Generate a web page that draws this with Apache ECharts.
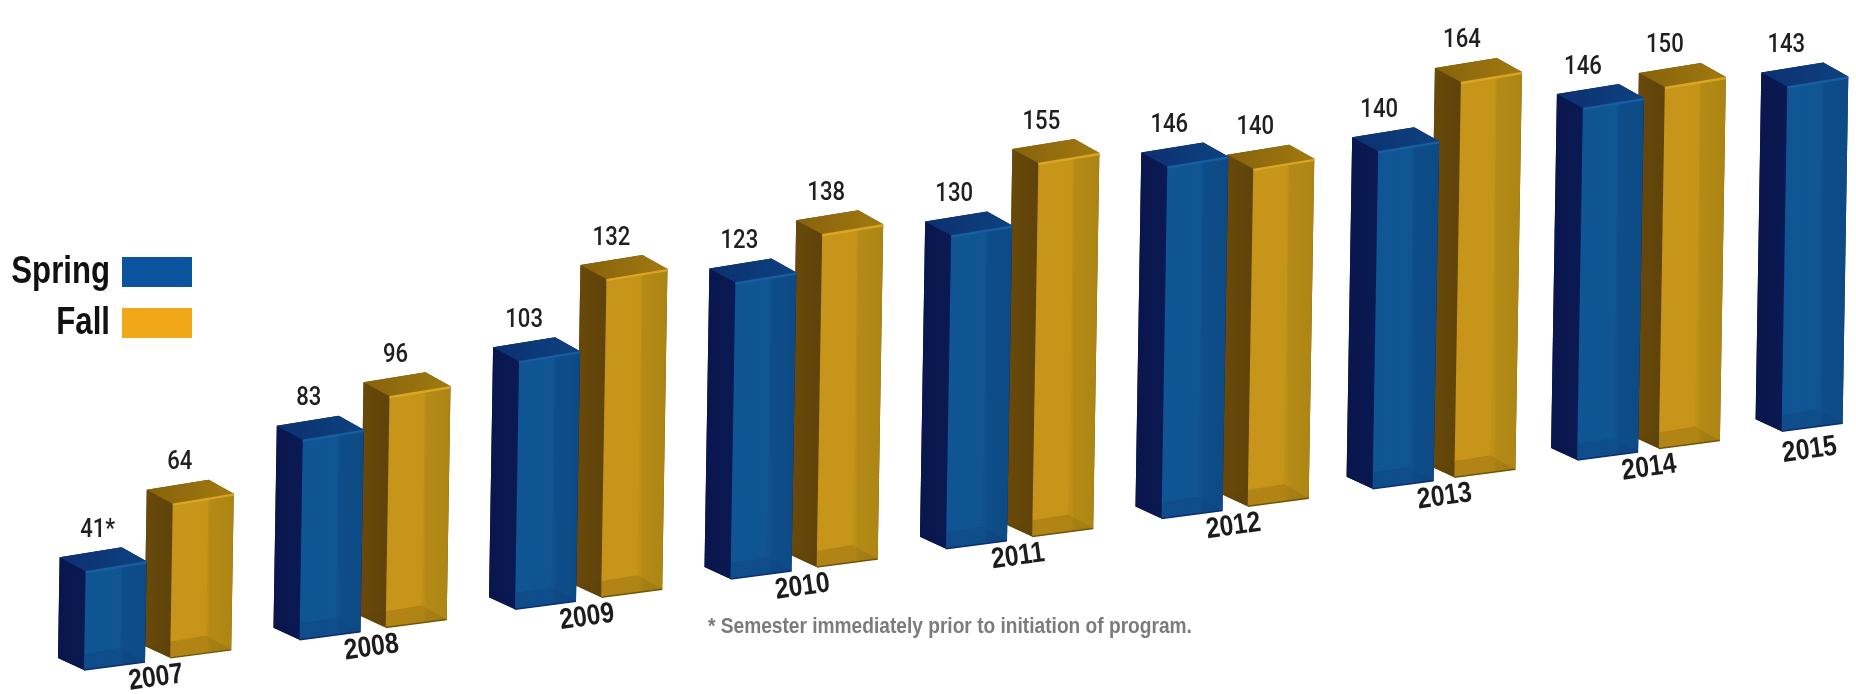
<!DOCTYPE html>
<html>
<head>
<meta charset="utf-8">
<style>html,body{margin:0;padding:0;background:#fff}#chart{width:1856px;height:694px}</style>
<script src="https://cdn.jsdelivr.net/npm/echarts@6/dist/echarts.min.js"></script>
</head>
<body>
<div id="chart"></div>
<script>
// Enrollment per semester
const years = [2007, 2008, 2009, 2010, 2011, 2012, 2013, 2014, 2015];
const springValues = [41, 83, 103, 123, 130, 146, 140, 146, 143];
const fallValues = [64, 96, 132, 138, 155, 140, 164, 150];
const footnoteMark = '*';
const footnote = '* Semester immediately prior to initiation of program.';
const seriesNames = ['Spring', 'Fall'];

const heavy = '"Liberation Sans",Arial,sans-serif';
const chart = echarts.init(document.getElementById('chart'), null, {renderer: 'canvas'});

// Oblique projection of the bars: the ground line climbs to the right and the
// year spacing tightens slightly towards the far end.
const GROUND_RISE = 0.1407, LEAN = 0.0165;
const FRONT_W = 61, FRONT_DY = 8, TOP_DY = 10;
const SIDE_DX = 26, SIDE_DY = 12, SIDE_TOP_DY = 14;
const BACK_DX = 36, BACK_DY = 22, BACK_TOP_DY = 24;
const FALL_OFFSET = 0.4;
const foreshorten = t => t - (11 / 215.5) * Math.max(0, t - 2012.6);

const skins = {
  spring: {
    side: ['#0a154c', '#0a1a54'], top: ['#0c3070', '#0e4280'], edge: '#1a60a4',
    front: ['#0f5494', '#115693', '#0f508d', '#0e4c88'], tint: 'rgba(8,30,80,0.05)',
    floor: 'rgba(8,24,70,0.12)', base: '#0b2f70', backing: '#0a1a54'
  },
  fall: {
    side: ['#6a4a0b', '#5f430a'], top: ['#86620b', '#a27a11'], edge: '#dfa928',
    front: ['#c8951a', '#c69518', '#bb9017', '#b08814'], tint: 'rgba(110,85,10,0.08)',
    floor: 'rgba(90,64,6,0.2)', base: '#6e560f', backing: '#6a4a0b'
  }
};

function hGrad(stops) {
  const n = stops.length - 1;
  return new echarts.graphic.LinearGradient(0, 0, 1, 0,
    stops.map((c, k) => ({offset: n === 3 ? [0, 0.58, 0.62, 1][k] : k / n, color: c})));
}
const poly = (points, fill) => ({
  type: 'polygon', shape: {points},
  style: {fill, stroke: null}
});

function makeBarRenderer(skinName, offset, isSpring) {
  const skin = skins[skinName];
  return function (params, api) {
    const year = api.value(0), v = api.value(1);
    if (isNaN(v)) return null;
    const zero = api.coord([foreshorten(year + offset), 0]);
    const origin = api.coord([years[0], 0]);
    const top = api.coord([foreshorten(year + offset), v]);
    const h = zero[1] - top[1];
    const x = zero[0];
    const y = zero[1] - GROUND_RISE * (x - origin[0]);
    const l = x + LEAN * h, t = y - h;

    const FLB = [x, y], FRB = [x + FRONT_W, y - FRONT_DY];
    const FLT = [l, t], FRT = [l + FRONT_W, t - TOP_DY];
    const LB = [x - SIDE_DX, y - SIDE_DY], LT = [l - SIDE_DX, t - SIDE_TOP_DY];
    const BT = [l + BACK_DX, t - BACK_TOP_DY], BB = [x + BACK_DX, y - BACK_DY];

    const children = [
      // silhouette first so the face seams stay closed
      poly([LB, LT, BT, FRT, FRB, FLB], skin.backing),
      poly([LT, FLT, FLB, LB], hGrad(skin.side)),
      poly([FLT, FRT, FRB, FLB], hGrad(skin.front)),
      poly([[l + BACK_DX, t - TOP_DY * BACK_DX / FRONT_W], FRT, FRB, BB], skin.tint),
      poly([LT, BT, FRT, FLT], hGrad(skin.top)),
      poly([LB, BB, FRB, FLB], skin.floor),
      {type: 'line', shape: {x1: FLT[0], y1: FLT[1] + 1, x2: FRT[0], y2: FRT[1] + 1},
        style: {stroke: skin.edge, lineWidth: 2.5, opacity: 0.85}},
      {type: 'line', shape: {x1: FLB[0], y1: FLB[1], x2: FRB[0], y2: FRB[1]},
        style: {stroke: skin.base, lineWidth: 1.5}}
    ];

    // value above the bar; the first spring semester carries the footnote mark
    const starred = isSpring && year === years[0];
    children.push({
      type: 'text', scaleX: 0.85,
      x: l + 7 - (year - years[0]) + (starred ? 5 : 0), y: t - 41,
      style: {
        text: v + (starred ? footnoteMark : ''), x: 0, y: 0,
        align: 'center', verticalAlign: 'middle',
        font: '500 26px Roboto, sans-serif', fill: '#202020'
      }
    });

    // year caption runs along the ground line
    if (isSpring) {
      const solo = fallValues[params.dataIndex] == null;
      children.push({
        type: 'text', rotation: 8 * Math.PI / 180, scaleX: 0.85,
        x: x + (solo ? 28 : 72), y: y + (solo ? 19 : 8),
        style: {
          text: String(year), x: 0, y: 0, align: 'center', verticalAlign: 'middle',
          font: 'bold 29px ' + heavy, fill: '#1c1c1c'
        }
      });
    }
    return {type: 'group', children};
  };
}

const legendCaption = (text, middle) => ({
  type: 'text', x: 110, y: middle, scaleX: 0.82, silent: true,
  style: {text, x: 0, y: 0, align: 'right', verticalAlign: 'middle',
    font: 'bold 38px ' + heavy, fill: '#111'}
});

chart.setOption({
  animation: false,
  backgroundColor: '#ffffff',
  grid: {left: 84, right: 48, top: 19.3, bottom: 24},
  xAxis: {type: 'value', min: 2007, max: 2015, interval: 1, show: false},
  yAxis: {type: 'value', min: 0, max: 270, interval: 30, show: false},
  legend: {
    orient: 'vertical', selectedMode: false,
    left: 122, top: 257, padding: 0,
    itemWidth: 70, itemHeight: 30, itemGap: 21,
    icon: 'rect', formatter: () => '',
    textStyle: {fontSize: 1},
    data: seriesNames
  },
  graphic: [
    legendCaption(seriesNames[0], 273),
    legendCaption(seriesNames[1], 324),
    {
      type: 'text', x: 708, y: 627, scaleX: 0.87, silent: true,
      style: {text: footnote, x: 0, y: 0, verticalAlign: 'middle',
        font: 'bold 22px ' + heavy, fill: '#7b7b7b'}
    }
  ],
  series: [
    {
      name: seriesNames[0], type: 'custom', z: 3, clip: false,
      itemStyle: {color: '#0b55a0'},
      renderItem: makeBarRenderer('spring', 0, true),
      data: years.map((y, i) => [y, springValues[i]])
    },
    {
      name: seriesNames[1], type: 'custom', z: 2, clip: false,
      itemStyle: {color: '#f0a818'},
      renderItem: makeBarRenderer('fall', FALL_OFFSET, false),
      data: fallValues.map((v, i) => [years[i], v])
    }
  ]
});
</script>
</body>
</html>
